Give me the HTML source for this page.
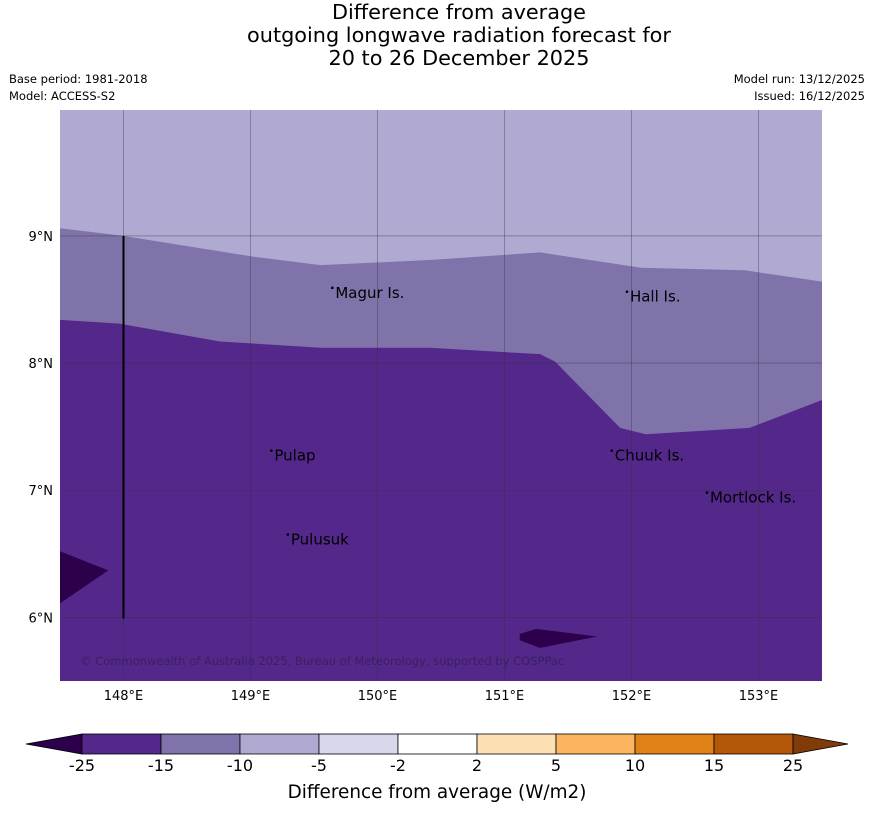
<!DOCTYPE html>
<html><head><meta charset="utf-8"><style>
body{margin:0;background:#fff;width:873px;height:816px;overflow:hidden;font-family:"Liberation Sans","DejaVu Sans",sans-serif}
</style></head><body>
<svg width="873" height="816" xmlns="http://www.w3.org/2000/svg" font-family="DejaVu Sans, Liberation Sans, sans-serif">
<g font-size="20.8" text-anchor="middle" fill="#000">
<text x="459" y="19">Difference from average</text>
<text x="459" y="42">outgoing longwave radiation forecast for</text>
<text x="459" y="65">20 to 26 December 2025</text>
</g>
<text x="9" y="83" font-size="11.5">Base period: 1981-2018</text>
<text x="9" y="100" font-size="11.5">Model: ACCESS-S2</text>
<text x="865" y="83" font-size="11.5" text-anchor="end">Model run: 13/12/2025</text>
<text x="865" y="100" font-size="11.5" text-anchor="end">Issued: 16/12/2025</text>
<g id="map"></g>
<g id="cbar"></g>
<text x="437" y="798" font-size="18.4" text-anchor="middle">Difference from average (W/m2)</text>
</svg>
<script>
const NS="http://www.w3.org/2000/svg";
const lonMin=147.5,lonMax=153.5,latMin=5.5,latMax=9.99;
const lonTicks=[148,149,150,151,152,153];
const latTicks=[6,7,8,9];
const c10Lon=[147.5,148.0,149.0,149.55,150.41,151.28,152.07,152.89,153.5];
const c10Lat=[9.06,9.0,8.84,8.77,8.81,8.87,8.75,8.73,8.64];
const c15Lon=[147.5,147.97,148.76,149.55,150.41,151.28,151.4,151.91,152.11,152.93,153.5];
const c15Lat=[8.34,8.31,8.17,8.12,8.12,8.07,8.01,7.49,7.44,7.49,7.71];
const p1Lon=[147.5,147.88,147.5];
const p1Lat=[6.52,6.37,6.11];
const p2Lon=[151.12,151.25,151.73,151.28,151.12];
const p2Lat=[5.87,5.91,5.85,5.76,5.82];
const islandNames=["Magur Is.","Hall Is.","Pulap","Chuuk Is.","Mortlock Is.","Pulusuk"];
const islandLon=[149.66,151.98,149.18,151.86,152.61,149.31];
const islandLat=[8.56,8.53,7.28,7.28,6.95,6.62];
const cbLabels=["-25","-15","-10","-5","-2","2","5","10","15","25"];
const cbColors=["#54278a","#7f73aa","#b0a9d1","#d9d8ea","#ffffff","#fddfb4","#fbb560","#df8117","#b35809"];
const X0=60,X1=822,Y0=110,Y1=681;
const x=l=>X0+(l-lonMin)/(lonMax-lonMin)*(X1-X0);
const y=l=>Y1-(l-latMin)/(latMax-latMin)*(Y1-Y0);
const map=document.getElementById('map');
function mk(t,a,p){const e=document.createElementNS(NS,t);for(const k in a)e.setAttribute(k,a[k]);(p||map).appendChild(e);return e;}
function pts(lo,la){return lo.map((v,i)=>x(v)+","+y(la[i])).join(" ");}
let r=mk('rect',{x:X0,y:Y0,width:X1-X0,height:Y1-Y0,fill:'#54278a'});

let p=mk('polygon',{points:pts(c15Lon,c15Lat)+" "+x(lonMax)+","+Y0+" "+x(lonMin)+","+Y0,fill:'#7f73aa'});

p=mk('polygon',{points:pts(c10Lon,c10Lat)+" "+x(lonMax)+","+Y0+" "+x(lonMin)+","+Y0,fill:'#b0a9d1'});

p=mk('polygon',{points:pts(p1Lon,p1Lat),fill:'#2d004b'});

p=mk('polygon',{points:pts(p2Lon,p2Lat),fill:'#2d004b'});

lonTicks.forEach(v=>{let l=mk('line',{x1:x(v),x2:x(v),y1:Y0,y2:Y1,stroke:'#333','stroke-width':0.6,'stroke-opacity':0.6});

let t=mk('text',{x:x(v),y:700,'font-size':13,'text-anchor':'middle'});t.textContent=v+"°E";
});
latTicks.forEach(v=>{let l=mk('line',{x1:X0,x2:X1,y1:y(v),y2:y(v),stroke:'#333','stroke-width':0.6,'stroke-opacity':0.6});

let t=mk('text',{x:53,y:y(v)+5,'font-size':13,'text-anchor':'end'});t.textContent=v+"°N";
});
let vl=mk('line',{x1:x(148),x2:x(148),y1:y(9),y2:y(5.99),stroke:'#000','stroke-width':2});

islandNames.forEach((n,i)=>{let d=mk('circle',{cx:x(islandLon[i])-2,cy:y(islandLat[i])-4,r:1.3,fill:'#000'});

let t=mk('text',{x:x(islandLon[i])+1,y:y(islandLat[i])+6,'font-size':15});t.textContent=n;
});
let cp=mk('text',{x:80,y:665,'font-size':11.5,fill:'#3a2060'});cp.textContent="© Commonwealth of Australia 2025, Bureau of Meteorology, supported by COSPPac";

const cb=document.getElementById('cbar');
const CX0=82,CW=79,CY=734,CH=20;
let lt=mk('polygon',{points:`${CX0},${CY} 26,${CY+CH/2} ${CX0},${CY+CH}`,fill:'#2d004b',stroke:'#000','stroke-width':0.8},cb);

cbColors.forEach((c,i)=>{let s=mk('rect',{x:CX0+i*CW,y:CY,width:CW,height:CH,fill:c,stroke:'#000','stroke-width':0.8},cb);
});
const end=CX0+cbColors.length*CW;
let rt=mk('polygon',{points:`${end},${CY} 848,${CY+CH/2} ${end},${CY+CH}`,fill:'#7f3b08',stroke:'#000','stroke-width':0.8},cb);

cbLabels.forEach((v,i)=>{let t=mk('text',{x:CX0+i*CW,y:771,'font-size':16,'text-anchor':'middle'},cb);t.textContent=v;
});
</script>
</body></html>
